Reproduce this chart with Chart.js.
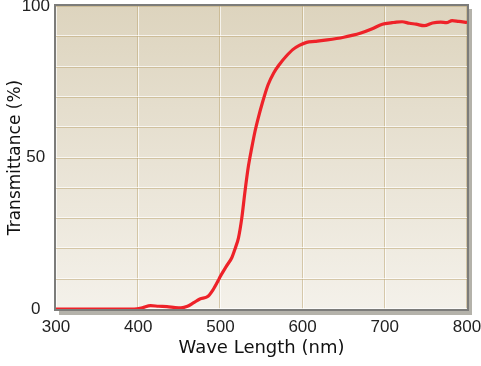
<!DOCTYPE html>
<html>
<head>
<meta charset="utf-8">
<script src="https://cdn.jsdelivr.net/npm/chart.js@4"></script>
<style>
  html, body { margin: 0; padding: 0; background: #fff; }
  #wrap { width: 481px; height: 366px; }
</style>
</head>
<body>
<div id="wrap"><canvas id="transChart" width="481" height="366"></canvas></div>
<script>
// wavelength (nm) and transmittance (%)
const waveLength = [300, 350, 395, 405, 415, 425, 435, 445, 452, 460, 467, 475, 485, 491, 497, 500, 507, 514, 518, 522, 526, 530, 534, 538, 542, 546, 551, 558, 565, 572, 580, 588, 596, 605, 615, 630, 650, 670, 684, 697, 709, 714, 721, 730, 738, 748, 758, 768, 775, 782, 790, 800];
const transmittance = [0, 0, 0, 0.4, 1.1, 0.9, 0.8, 0.5, 0.4, 0.9, 2, 3.3, 4.2, 6.3, 9.2, 10.8, 14, 17, 20, 23.5, 30, 39, 47, 53, 58.5, 63, 68, 74, 78, 80.8, 83.4, 85.6, 87, 88, 88.3, 88.8, 89.7, 91, 92.4, 94, 94.5, 94.7, 94.8, 94.3, 94, 93.5, 94.4, 94.7, 94.5, 95.2, 94.9, 94.6];
const xTicks = [300, 400, 500, 600, 700, 800];
const yTicks = [0, 50, 100];

const points = waveLength.map((w, i) => ({ x: w, y: transmittance[i] }));

// gradient panel, embossed grid and shadowed frame
const panelPlugin = {
  id: "panel",
  beforeDraw(chart) {
    const { ctx, chartArea: a, scales } = chart;
    ctx.save();
    ctx.fillStyle = "#b4b2aa";
    ctx.fillRect(a.left + 3, a.top + 3, a.right - a.left + 2, a.bottom - a.top + 3);
    const g = ctx.createLinearGradient(0, a.top, 0, a.bottom);
    g.addColorStop(0, "#ddd4be");
    g.addColorStop(1, "#f4f1ea");
    ctx.fillStyle = g;
    ctx.fillRect(a.left, a.top, a.right - a.left, a.bottom - a.top);

    ctx.lineWidth = 1;
    scales.x.ticks.forEach((t) => {
      const p = Math.round(scales.x.getPixelForValue(t.value));
      ctx.strokeStyle = "rgba(190,168,118,0.55)";
      ctx.beginPath(); ctx.moveTo(p - 0.5, a.top); ctx.lineTo(p - 0.5, a.bottom); ctx.stroke();
      ctx.strokeStyle = "rgba(255,255,255,0.7)";
      ctx.beginPath(); ctx.moveTo(p + 0.5, a.top); ctx.lineTo(p + 0.5, a.bottom); ctx.stroke();
    });
    scales.y.ticks.forEach((t) => {
      const p = Math.round(scales.y.getPixelForValue(t.value));
      ctx.strokeStyle = "rgba(190,168,118,0.55)";
      ctx.beginPath(); ctx.moveTo(a.left, p + 0.5); ctx.lineTo(a.right, p + 0.5); ctx.stroke();
      ctx.strokeStyle = "rgba(255,255,255,0.7)";
      ctx.beginPath(); ctx.moveTo(a.left, p - 0.5); ctx.lineTo(a.right, p - 0.5); ctx.stroke();
    });
    ctx.restore();
  },
  afterDatasetsDraw(chart) {
    const { ctx, chartArea: a } = chart;
    ctx.save();
    ctx.strokeStyle = "#7c7c7a";
    ctx.lineWidth = 2;
    ctx.strokeRect(a.left - 1, a.top - 1, a.right - a.left + 2, a.bottom - a.top + 2);
    ctx.restore();
  },
};

const noPad = (scale) => {
  scale.paddingTop = 0;
  scale.paddingBottom = 0;
  scale.paddingLeft = 0;
  scale.paddingRight = 0;
};

new Chart(document.getElementById("transChart").getContext("2d"), {
  type: "scatter",
  data: {
    datasets: [
      {
        data: points,
        showLine: true,
        borderColor: "#ee2229",
        borderWidth: 3.2,
        pointRadius: 0,
        cubicInterpolationMode: "monotone",
        clip: 4,
      },
    ],
  },
  options: {
    responsive: false,
    animation: false,
    layout: { padding: { top: 6, right: 14, left: 0, bottom: 0 } },
    plugins: { legend: { display: false }, tooltip: { enabled: false } },
    scales: {
      x: {
        type: "linear",
        min: 300,
        max: 800,
        afterFit: (scale) => { scale.height = 57; noPad(scale); },
        afterBuildTicks: (scale) => { scale.ticks = xTicks.map((v) => ({ value: v })); },
        grid: { display: false, drawTicks: false },
        border: { display: false },
        ticks: {
          padding: 8,
          color: "#222",
          font: { family: "Liberation Sans", size: 17 },
          maxRotation: 0,
        },
        title: {
          display: true,
          text: "Wave Length (nm)",
          color: "#111",
          font: { family: "DejaVu Sans", size: 18 },
          padding: { top: 0, bottom: 7 },
        },
      },
      y: {
        min: 0,
        max: 100,
        afterFit: (scale) => { scale.width = 56; noPad(scale); },
        grid: { display: false, drawTicks: false },
        border: { display: false },
        ticks: {
          stepSize: 10,
          autoSkip: false,
          padding: 6,
          crossAlign: "center",
          color: "#222",
          font: { family: "Liberation Sans", size: 17 },
          callback: (v) => (yTicks.includes(v) ? String(v) : ""),
        },
        title: {
          display: true,
          text: "Transmittance (%)",
          color: "#111",
          font: { family: "DejaVu Sans", size: 17 },
          padding: { top: 5, bottom: 0 },
        },
      },
    },
  },
  plugins: [panelPlugin],
});
</script>
</body>
</html>
